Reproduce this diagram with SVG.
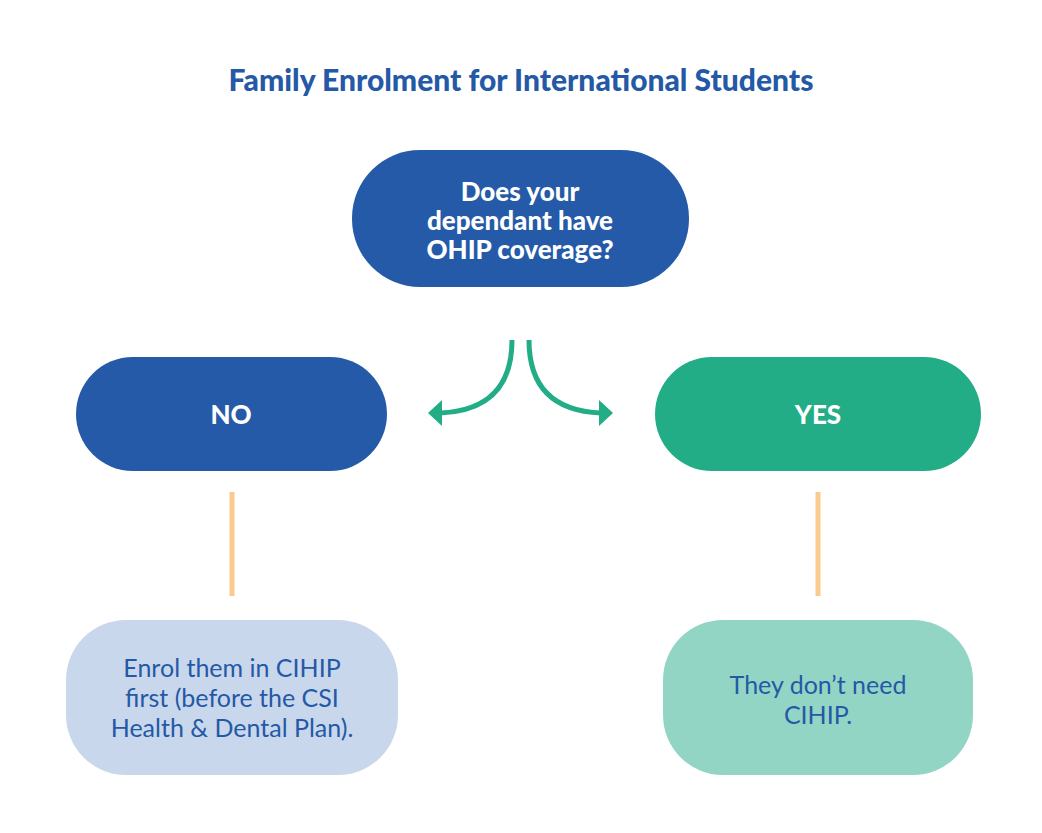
<svg xmlns="http://www.w3.org/2000/svg" width="1042" height="833" viewBox="0 0 1042 833">
<style>
text{font-family:"Lato","Liberation Sans",sans-serif;text-anchor:middle}
.w{fill:#fff;font-weight:900;font-size:26px}
.b{fill:#2459a6;font-size:25px}
.c{fill:none;stroke-width:5}
</style>
<rect width="1042" height="833" fill="#fff"/>
<text x="521" y="91" style="font-weight:900;font-size:30px;fill:#2459a6">Family Enrolment for International Students</text>
<g id="q"><rect x="352" y="150" width="337" height="137" rx="68" fill="#245aa7"/>
<text class="w" x="520" y="201">Does your</text><text class="w" x="520" y="230">dependant have</text><text class="w" x="520" y="259">OHIP coverage?</text></g>
<g id="no"><rect x="76" y="357" width="311" height="114" rx="57" fill="#245aa7"/><text class="w" x="231" y="424">NO</text></g>
<g id="yes"><rect x="655" y="357" width="326" height="114" rx="57" fill="#22ad87"/><text class="w" x="818" y="424">YES</text></g>
<g id="a1"><rect x="66" y="620" width="332" height="155" rx="60" fill="#c9d7ec"/>
<text class="b" x="232" y="677">Enrol them in CIHIP</text><text class="b" x="232" y="707">first (before the CSI</text><text class="b" x="232" y="737">Health &amp; Dental Plan).</text></g>
<g id="a2"><rect x="663" y="620" width="310" height="155" rx="60" fill="#92d5c4"/>
<text class="b" x="818" y="694">They don’t need</text><text class="b" x="818" y="724">CIHIP.</text></g>
<g id="connectors">
<path class="c" stroke="#22ad87" d="M512 340 C512 385 490 411 440 413"/>
<path fill="#22ad87" d="M428 413 L442 400 L442 426Z"/>
<path class="c" stroke="#22ad87" d="M529 340 C529 385 551 411 601 413"/>
<path fill="#22ad87" d="M613 413 L599 400 L599 426Z"/>
<path class="c" stroke="#fcc98f" d="M232 492 V596 M818 492 V596"/>
</g>
</svg>
